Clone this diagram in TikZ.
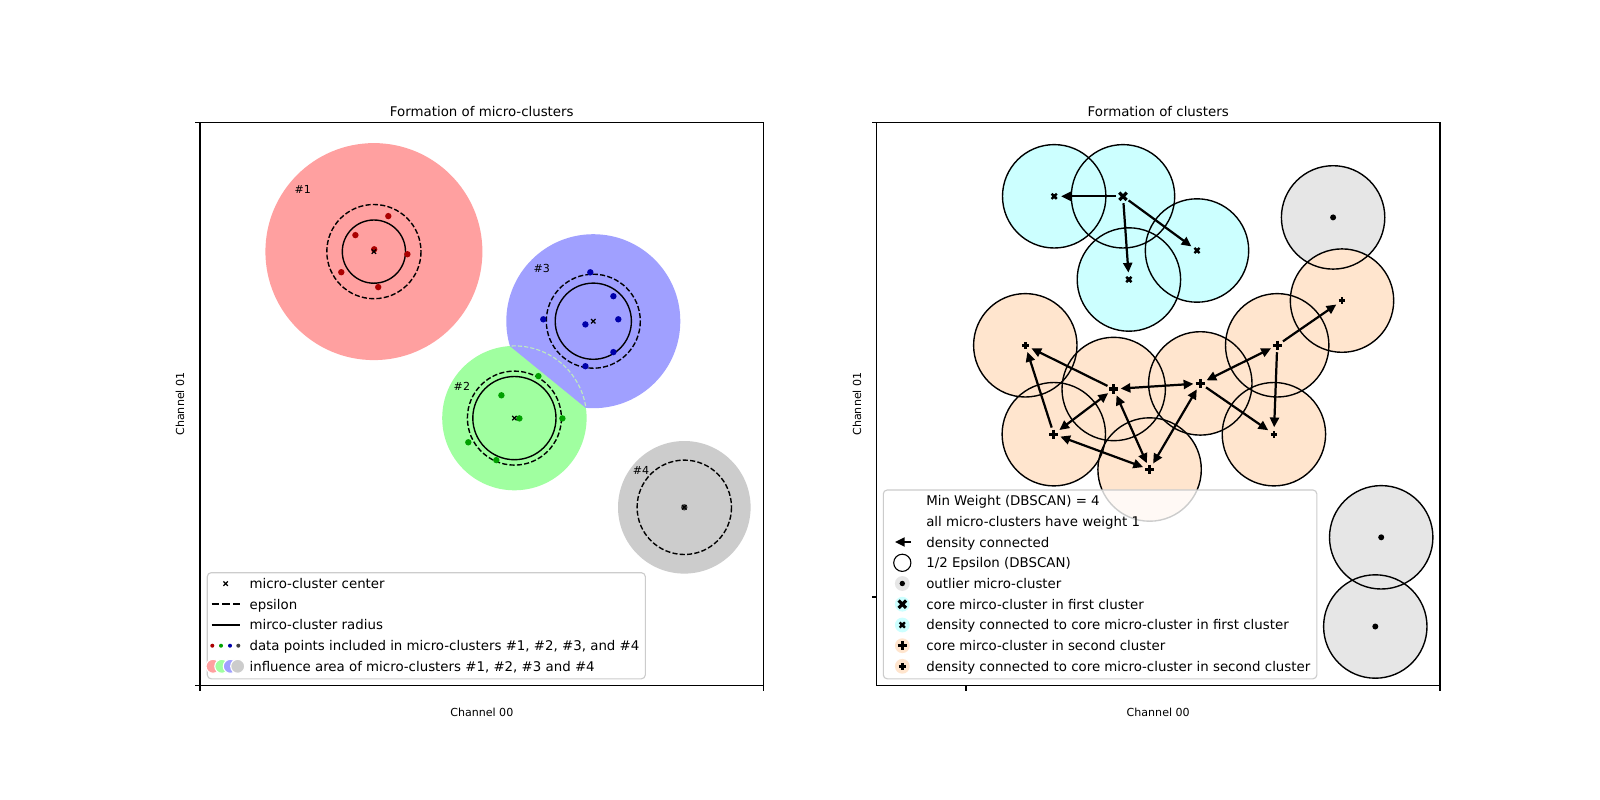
\documentclass[tikz,border=0pt]{standalone}
\usepackage{fontspec}
\setmainfont{DejaVu Sans}
\usetikzlibrary{arrows.meta}
\definecolor{infred}{RGB}{255,160,160}
\definecolor{infgreen}{RGB}{160,255,160}
\definecolor{infblue}{RGB}{160,160,255}
\definecolor{infgray}{RGB}{204,204,204}
\definecolor{ptred}{RGB}{170,0,0}
\definecolor{ptgreen}{RGB}{0,160,0}
\definecolor{ptblue}{RGB}{0,0,170}
\definecolor{ptgray}{RGB}{64,64,64}
\definecolor{cyanfill}{RGB}{204,255,255}
\definecolor{peach}{RGB}{255,229,206}
\definecolor{outgray}{RGB}{230,230,230}
\definecolor{legedge}{RGB}{204,204,204}
\definecolor{faintgreen}{RGB}{190,235,190}
\tikzset{
  spine/.style={draw=black,line width=0.8bp},
  tck/.style={draw=black,line width=0.8bp},
  epscirc/.style={draw=black,line width=1bp,dash pattern=on 3.7bp off 1.6bp},
  radcirc/.style={draw=black,line width=1bp},
  halfeps/.style={draw=black,line width=1bp},
  faintg/.style={draw=faintgreen,line width=0.8bp,dash pattern=on 3bp off 1.5bp},
  dens/.style={draw=black,line width=1.6bp,-{Triangle[length=7bp,width=6.5bp]},shorten <=5bp,shorten >=5bp},
  densboth/.style={dens,{Triangle[length=7bp,width=6.5bp]}-{Triangle[length=7bp,width=6.5bp]}},
  legbox/.style={draw=legedge,line width=0.8bp,fill=white,fill opacity=0.8,rounded corners=2.8bp},
  legtext/.style={anchor=base west,inner sep=0pt,font=\fontsize{9.65}{11.5}\selectfont},
  ttl/.style={anchor=base,inner sep=0pt,font=\fontsize{9.65}{11.5}\selectfont},
  axlbl/.style={inner sep=0pt,font=\fontsize{8}{10}\selectfont},
  mclbl/.style={inner sep=0pt,font=\fontsize{8}{10}\selectfont},
  pics/xmark/.style={code={\draw[line width=0.9bp] (-2.2,-2.2) -- (2.2,2.2) (-2.2,2.2) -- (2.2,-2.2);}},
  pics/bigX/.style={code={\draw[line width=2.3bp] (-3.7,-3.7) -- (3.7,3.7) (-3.7,3.7) -- (3.7,-3.7);}},
  pics/smallX/.style={code={\fill (0,0) circle[radius=2.2];\draw[line width=1.7bp] (-2.6,-2.6) -- (2.6,2.6) (-2.6,2.6) -- (2.6,-2.6);}},
  pics/bigP/.style={code={\draw[line width=2.3bp] (-4.6,0) -- (4.6,0) (0,-4.6) -- (0,4.6);}},
  pics/smallP/.style={code={\draw[line width=2bp] (-3.4,0) -- (3.4,0) (0,-3.4) -- (0,3.4);}},
}
\begin{document}
\begin{tikzpicture}[x=0.72bp,y=-0.72bp]
\useasboundingbox (0,0) rectangle (1600,800);
\fill[white] (0,0) rectangle (1600,800);

% ================= LEFT PLOT =================
\coordinate (m1) at (373.9,251.6);
\coordinate (m2) at (514.4,418.1);
\coordinate (m3) at (593.3,321.2);
\coordinate (m4) at (684.3,507.3);

% influence areas
\fill[infred] (m1) circle[radius=108.5];
\fill[infgreen] (m2) circle[radius=72.2];
\begin{scope}
  \clip (354.0,219.1) -- (741.6,534.9) -- (931.1,302.3) -- (543.5,-13.5) -- cycle;
  \fill[infblue] (m3) circle[radius=87];
\end{scope}
\fill[infgray] (m4) circle[radius=66.3];
\begin{scope}
  \clip (m3) circle[radius=87];
  \draw[faintg] (m2) circle[radius=72.2];
\end{scope}

% epsilon and radius circles
\draw[epscirc] (m1) circle[radius=47.1];
\draw[radcirc] (m1) circle[radius=31.6];
\draw[epscirc] (m2) circle[radius=47];
\draw[radcirc] (m2) circle[radius=41.6];
\draw[epscirc] (m3) circle[radius=47];
\draw[radcirc] (m3) circle[radius=38.1];
\draw[epscirc] (m4) circle[radius=47.2];

% data points
\foreach \px/\py in {388.3/216.1,355.4/235.1,407.4/254.2,341.3/272.2,378.2/287.1,374.2/249.3}
  \fill[ptred] (\px,\py) circle[radius=3.2];
\foreach \px/\py in {538.4/376.1,501.4/395.3,519.4/418.4,562.4/418.4,468.3/442.3,496.3/460.1}
  \fill[ptgreen] (\px,\py) circle[radius=3.2];
\foreach \px/\py in {590.3/272.3,613.4/296.2,543.3/319.3,618.3/319.3,585.4/324.4,613.4/352.1,585.4/366.2}
  \fill[ptblue] (\px,\py) circle[radius=3.2];
\fill[ptgray] (m4) circle[radius=3.2];

% centers
\foreach \c in {m1,m2,m3,m4} \pic at (\c) {xmark};

% labels
\node[mclbl] (l1) at (302.8,189.2) {\#1};
\node[mclbl] (l2) at (461.9,386.0) {\#2};
\node[mclbl] (l3) at (541.8,268.0) {\#3};
\node[mclbl] (l4) at (641.0,470.0) {\#4};

% axes
\draw[spine] (200,122.2) rectangle (763.6,685.8);
\draw[tck] (200,122.2) -- (195.1,122.2) (200,685.8) -- (195.1,685.8)
           (200,685.8) -- (200,690.7) (763.6,685.8) -- (763.6,690.7);
\node[ttl] (t1) at (481.8,116.5) {Formation of micro-clusters};
\node[axlbl] (xl1) at (481.8,712) {Channel 00};
\node[axlbl,rotate=90] (yl1) at (180,404) {Channel 01};

% legend left
\draw[legbox] (207.3,572.7) rectangle (645.3,678.8);
\pic at (225.7,583.6) {xmark};
\draw[line width=1.5bp,dash pattern=on 5.5bp off 2.4bp] (211.5,604.3) -- (239.5,604.3);
\draw[line width=1.5bp] (211.5,625.0) -- (239.5,625.0);
\fill[ptred] (212.3,645.7) circle[radius=2];
\fill[ptgreen] (221.0,645.7) circle[radius=2];
\fill[ptblue] (230.0,645.7) circle[radius=2];
\fill[ptgray] (238.3,645.7) circle[radius=2];
\filldraw[fill=infred,draw=white,line width=0.8bp] (213.0,666.3) circle[radius=7];
\filldraw[fill=infgreen,draw=white,line width=0.8bp] (221.8,666.3) circle[radius=7];
\filldraw[fill=infblue,draw=white,line width=0.8bp] (230.3,666.3) circle[radius=7];
\filldraw[fill=infgray,draw=white,line width=0.8bp] (237.7,666.3) circle[radius=7];
\node[legtext] (lt1) at (249.3,588.3) {micro-cluster center};
\node[legtext] (lt2) at (249.3,609.0) {epsilon};
\node[legtext] (lt3) at (249.3,629.7) {mirco-cluster radius};
\node[legtext] (lt4) at (249.3,650.4) {data points included in micro-clusters \#1, \#2, \#3, and \#4};
\node[legtext] (lt5) at (249.3,671.1) {influence area of micro-clusters \#1, \#2, \#3 and \#4};

% ================= RIGHT PLOT =================
\coordinate (c1) at (1054.2,196.3);
\coordinate (c2) at (1123.0,196.3);
\coordinate (c3) at (1197.0,250.5);
\coordinate (c4) at (1128.9,279.5);
\coordinate (g1) at (1333.1,217.4);
\coordinate (g2) at (1381.2,537.3);
\coordinate (g3) at (1375.3,626.5);
\coordinate (o1) at (1025.3,345.3);
\coordinate (o2) at (1113.7,389.0);
\coordinate (o3) at (1200.3,383.4);
\coordinate (o4) at (1277.2,345.3);
\coordinate (o5) at (1342.0,300.6);
\coordinate (o6) at (1053.8,434.2);
\coordinate (o7) at (1149.6,469.5);
\coordinate (o8) at (1273.9,434.2);

\foreach \p in {c1,c2,c3,c4} \fill[cyanfill] (\p) circle[radius=51.7];
\foreach \p in {g1,g2,g3} \fill[outgray] (\p) circle[radius=51.7];
\foreach \p in {o1,o2,o3,o4,o5,o6,o7,o8} \fill[peach] (\p) circle[radius=51.7];
\foreach \p in {c1,c2,c3,c4,g1,g2,g3,o1,o2,o3,o4,o5,o6,o7,o8}
  \draw[halfeps] (\p) circle[radius=51.7];

% density connections
\draw[dens] (c2) -- (c1);
\draw[dens] (c2) -- (c3);
\draw[dens] (c2) -- (c4);
\draw[dens] (o2) -- (o1);
\draw[dens] (o6) -- (o1);
\draw[dens] (o4) -- (o5);
\draw[dens] (o4) -- (o8);
\draw[dens] (o3) -- (o8);
\draw[densboth] (o2) -- (o6);
\draw[densboth] (o2) -- (o3);
\draw[densboth] (o6) -- (o7);
\draw[densboth] (o2) -- (o7);
\draw[densboth] (o3) -- (o7);
\draw[densboth] (o3) -- (o4);

% markers
\pic at (c2) {bigX};
\foreach \p in {c1,c3,c4} \pic at (\p) {smallX};
\foreach \p in {g1,g2,g3} \fill[black] (\p) circle[radius=3];
\foreach \p in {o2,o3,o4,o6,o7} \pic at (\p) {bigP};
\foreach \p in {o1,o5,o8} \pic at (\p) {smallP};

% axes
\draw[spine] (876.4,122.2) rectangle (1440,685.8);
\draw[tck] (876.4,122.2) -- (871.5,122.2) (876.4,597) -- (871.5,597)
           (966,685.8) -- (966,690.7) (1440,685.8) -- (1440,690.7);
\node[ttl] (t2) at (1158.2,116.5) {Formation of clusters};
\node[axlbl] (xl2) at (1158.2,712) {Channel 00};
\node[axlbl,rotate=90] (yl2) at (857,404) {Channel 01};

% legend right
\draw[legbox] (883.3,490) rectangle (1316.8,678.8);
\coordinate (la1) at (911,542);
\coordinate (la2) at (895,542);
\draw[dens,shorten <=0pt,shorten >=0pt] (la1) -- (la2);
\filldraw[fill=white,draw=black,line width=0.8bp] (902.3,562.8) circle[radius=8.6];
\fill[outgray] (902.3,583.5) circle[radius=7.4];
\fill[black] (902.3,583.5) circle[radius=2.7];
\fill[cyanfill] (902.3,604.2) circle[radius=7.4];
\pic at (902.3,604.2) {bigX};
\fill[cyanfill] (902.3,625.0) circle[radius=7.4];
\pic at (902.3,625.0) {smallX};
\fill[peach] (902.3,645.7) circle[radius=7.4];
\pic at (902.3,645.7) {bigP};
\fill[peach] (902.3,666.3) circle[radius=7.4];
\pic at (902.3,666.3) {smallP};
\node[legtext] (rt1) at (926,505.6) {Min Weight (DBSCAN) = 4};
\node[legtext] (rt2) at (926,526.3) {all micro-clusters have weight 1};
\node[legtext] (rt3) at (926,547.0) {density connected};
\node[legtext] (rt4) at (926,567.7) {1/2 Epsilon (DBSCAN)};
\node[legtext] (rt5) at (926,588.4) {outlier micro-cluster};
\node[legtext] (rt6) at (926,609.1) {core mirco-cluster in first cluster};
\node[legtext] (rt7) at (926,629.8) {density connected to core micro-cluster in first cluster};
\node[legtext] (rt8) at (926,650.5) {core mirco-cluster in second cluster};
\node[legtext] (rt9) at (926,671.1) {density connected to core micro-cluster in second cluster};
\end{tikzpicture}
\end{document}
